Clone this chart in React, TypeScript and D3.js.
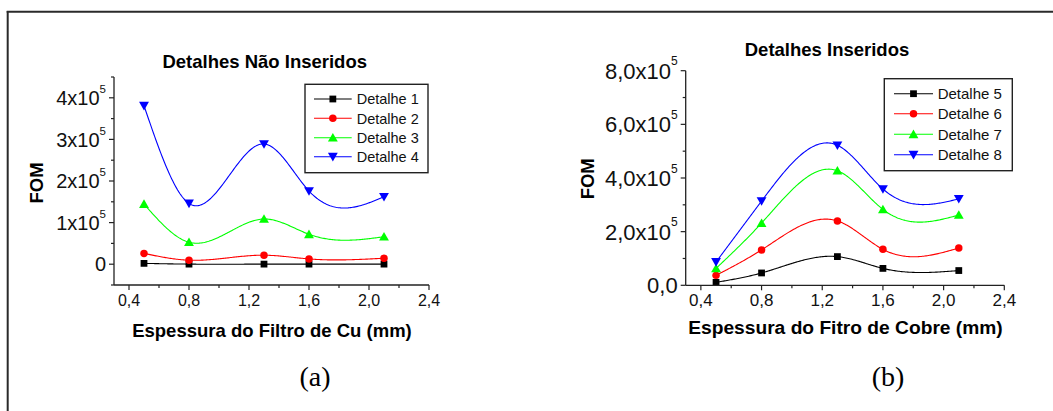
import React from "react";
import * as d3 from "d3";

// ---------- DATA ----------
const xValues = [0.5, 0.8, 1.3, 1.6, 2.1];
const xTickValues = [0.4, 0.8, 1.2, 1.6, 2.0, 2.4];
const xTickLabels = ["0,4", "0,8", "1,2", "1,6", "2,0", "2,4"];
const xMinorTickValues = [0.6, 1.0, 1.4, 1.8, 2.2];

const leftNames = ["Detalhe 1", "Detalhe 2", "Detalhe 3", "Detalhe 4"];
const detalhe1 = [2000, 200, 200, 200, 200];
const detalhe2 = [26000, 9600, 21600, 12700, 14400];
const detalhe3 = [144600, 52800, 108600, 71900, 66000];
const detalhe4 = [381000, 146000, 289000, 176000, 162000];
const leftYTicks = [0, 1e5, 2e5, 3e5, 4e5];
const leftYTickMantissa = ["0", "1x10", "2x10", "3x10", "4x10"];
const leftYTickExponent = ["", "5", "5", "5", "5"];
const leftYMinorTicks = [-0.5e5, 0.5e5, 1.5e5, 2.5e5, 3.5e5, 4.5e5];

const rightNames = ["Detalhe 5", "Detalhe 6", "Detalhe 7", "Detalhe 8"];
const detalhe5 = [11000, 46000, 107000, 63000, 55000];
const detalhe6 = [37000, 132000, 240000, 134000, 139000];
const detalhe7 = [63000, 232000, 427000, 283000, 262000];
const detalhe8 = [87000, 314000, 522000, 359000, 322000];
const rightYTicks = [0, 2e5, 4e5, 6e5, 8e5];
const rightYTickMantissa = ["0,0", "2,0x10", "4,0x10", "6,0x10", "8,0x10"];
const rightYTickExponent = ["", "5", "5", "5", "5"];
const rightYMinorTicks = [1e5, 3e5, 5e5, 7e5];

const seriesColors = ["#000000", "#ff0000", "#00ff00", "#0000ff"];
const seriesSymbols = ["square", "circle", "up", "down"];

// ---------- helpers ----------
function naturalSpline(xs: number[], ys: number[]) {
  const n = xs.length;
  const h: number[] = [];
  for (let i = 0; i < n - 1; i++) h.push(xs[i + 1] - xs[i]);
  const a: number[] = new Array(n).fill(0);
  const b: number[] = new Array(n).fill(0);
  const c: number[] = new Array(n).fill(0);
  const r: number[] = new Array(n).fill(0);
  b[0] = 1; b[n - 1] = 1;
  for (let i = 1; i < n - 1; i++) {
    a[i] = h[i - 1];
    b[i] = 2 * (h[i - 1] + h[i]);
    c[i] = h[i];
    r[i] = 6 * ((ys[i + 1] - ys[i]) / h[i] - (ys[i] - ys[i - 1]) / h[i - 1]);
  }
  // Thomas algorithm
  const cp = new Array(n).fill(0);
  const rp = new Array(n).fill(0);
  cp[0] = c[0] / b[0];
  rp[0] = r[0] / b[0];
  for (let i = 1; i < n; i++) {
    const m = b[i] - a[i] * cp[i - 1];
    cp[i] = c[i] / m;
    rp[i] = (r[i] - a[i] * rp[i - 1]) / m;
  }
  const M = new Array(n).fill(0);
  M[n - 1] = rp[n - 1];
  for (let i = n - 2; i >= 0; i--) M[i] = rp[i] - cp[i] * M[i + 1];
  return (x: number) => {
    let i = 0;
    while (i < n - 2 && x > xs[i + 1]) i++;
    const hi = h[i];
    const t1 = xs[i + 1] - x;
    const t0 = x - xs[i];
    return (
      (M[i] * t1 * t1 * t1) / (6 * hi) +
      (M[i + 1] * t0 * t0 * t0) / (6 * hi) +
      (ys[i] / hi - (M[i] * hi) / 6) * t1 +
      (ys[i + 1] / hi - (M[i + 1] * hi) / 6) * t0
    );
  };
}

function symbolPath(kind: string) {
  if (kind === "square") return d3.symbol(d3.symbolSquare, 46)();
  if (kind === "circle") return d3.symbol(d3.symbolCircle, 44)();
  return d3.symbol(d3.symbolTriangle, 42)();
}

function Marker({ kind, x, y, color }: any) {
  const rot = kind === "down" ? 180 : 0;
  const dy = kind === "up" ? 1 : kind === "down" ? -1 : 0;
  return (
    <path
      d={symbolPath(kind) as string}
      transform={`translate(${x},${y + dy}) rotate(${rot})`}
      fill={color}
      stroke="none"
    />
  );
}

const SANS = "'Liberation Sans', Arial, Helvetica, sans-serif";
const SERIF = "'Liberation Serif', 'Times New Roman', serif";

function Panel(props: any) {
  const {
    x0, x1, yTop, yBottom, yDomain, series, names,
    yTicks, yMantissa, yExponent, yMinor,
    title, titleX, titleY, xTitle, xTitleX, xTitleY, xTitleSize,
    yTitleX, yTitleY, yTickSize, supSize, supDy, xTickSize,
    legend, caption, captionX,
  } = props;
  const xs = d3.scaleLinear().domain([0.3, 2.4]).range([x0, x1]);
  const ys = d3.scaleLinear().domain(yDomain).range([yBottom, yTop]);
  const line = d3.line<[number, number]>().x((d) => xs(d[0])).y((d) => ys(d[1]));
  const axisColor = "#222";
  return (
    <g>
      <text x={titleX} y={titleY} textAnchor="middle" fontFamily={SANS} fontWeight="bold" fontSize={18.5}>{title}</text>
      {/* curves */}
      {series.map((vals: number[], si: number) => {
        const f = naturalSpline(xValues, vals);
        const pts: [number, number][] = d3.range(0, 201).map((k) => {
          const x = xValues[0] + ((xValues[xValues.length - 1] - xValues[0]) * k) / 200;
          return [x, f(x)];
        });
        return <path key={"c" + si} d={line(pts) as string} fill="none" stroke={seriesColors[si]} strokeWidth={1.1} />;
      })}
      {series.map((vals: number[], si: number) =>
        vals.map((v, i) => (
          <Marker key={"m" + si + "-" + i} kind={seriesSymbols[si]} x={xs(xValues[i])} y={ys(v)} color={seriesColors[si]} />
        ))
      )}
      {/* axes */}
      <line x1={x0} x2={x0} y1={yTop} y2={yBottom} stroke={axisColor} strokeWidth={1.3} />
      <line x1={x0} x2={x1} y1={yBottom} y2={yBottom} stroke={axisColor} strokeWidth={1.3} />
      {xTickValues.map((t, i) => (
        <g key={"xt" + i}>
          <line x1={xs(t)} x2={xs(t)} y1={yBottom} y2={yBottom + 5} stroke={axisColor} strokeWidth={1.2} />
          <text x={xs(t)} y={306} textAnchor="middle" fontFamily={SANS} fontSize={xTickSize} fill="#111">{xTickLabels[i]}</text>
        </g>
      ))}
      {xMinorTickValues.map((t, i) => (
        <line key={"xm" + i} x1={xs(t)} x2={xs(t)} y1={yBottom} y2={yBottom + 3} stroke={axisColor} strokeWidth={1.2} />
      ))}
      {yTicks.map((t: number, i: number) => (
        <g key={"yt" + i}>
          <line x1={x0 - 5} x2={x0} y1={ys(t)} y2={ys(t)} stroke={axisColor} strokeWidth={1.2} />
          <text x={x0 - 8} y={ys(t) + yTickSize * 0.36} textAnchor="end" fontFamily={SANS} fontSize={yTickSize} fill="#111">
            {yMantissa[i]}
            {yExponent[i] ? <tspan fontSize={supSize} dy={supDy}>{yExponent[i]}</tspan> : null}
          </text>
        </g>
      ))}
      {yMinor.map((t: number, i: number) => (
        <line key={"ym" + i} x1={x0 - 3} x2={x0} y1={ys(t)} y2={ys(t)} stroke={axisColor} strokeWidth={1.2} />
      ))}
      <text x={xTitleX} y={xTitleY} textAnchor="middle" fontFamily={SANS} fontWeight="bold" fontSize={xTitleSize}>{xTitle}</text>
      <text transform={`translate(${yTitleX},${yTitleY}) rotate(-90)`} textAnchor="middle" fontFamily={SANS} fontWeight="bold" fontSize={18.5}>FOM</text>
      {/* legend */}
      <rect x={legend.x} y={legend.y} width={legend.w} height={legend.h} fill="white" stroke="#222" strokeWidth={1.4} />
      {names.map((nm: string, i: number) => {
        const ry = legend.rows[i];
        return (
          <g key={"lg" + i}>
            <line x1={legend.lx0} x2={legend.lx1} y1={ry} y2={ry} stroke={seriesColors[i]} strokeWidth={1.1} />
            <Marker kind={seriesSymbols[i]} x={(legend.lx0 + legend.lx1) / 2} y={ry} color={seriesColors[i]} />
            <text x={legend.tx} y={ry + legend.fs * 0.36} fontFamily={SANS} fontSize={legend.fs} fill="#111">{nm}</text>
          </g>
        );
      })}
      <text x={captionX} y={386} textAnchor="middle" fontFamily={SERIF} fontSize={28}>{caption}</text>
    </g>
  );
}

export default function App() {
  return (
    <div style={{ position: "absolute", left: 0, top: 0, width: 1053, height: 411, background: "white" }}>
      <svg width={1053} height={411} style={{ display: "block" }}>
        <rect x={0} y={0} width={1053} height={411} fill="white" />
        <line x1={7.7} x2={7.7} y1={11} y2={411} stroke="#2a2a2a" strokeWidth={2} />
        <line x1={6.7} x2={1053} y1={11.8} y2={11.8} stroke="#2a2a2a" strokeWidth={2} />
        <Panel
          x0={114} x1={429} yTop={77} yBottom={285} yDomain={[-0.5e5, 4.5e5]}
          series={[detalhe1, detalhe2, detalhe3, detalhe4]} names={leftNames}
          yTicks={leftYTicks} yMantissa={leftYTickMantissa} yExponent={leftYTickExponent} yMinor={leftYMinorTicks}
          title="Detalhes Não Inseridos" titleX={264.7} titleY={68}
          xTitle="Espessura do Filtro de Cu (mm)" xTitleX={272} xTitleY={337} xTitleSize={18.5}
          yTitleX={42.7} yTitleY={183} yTickSize={20} supSize={11.5} supDy={-12} xTickSize={16}
          legend={{ x: 305, y: 84.3, w: 123, h: 88.4, rows: [99, 118.3, 137.7, 156.7], lx0: 314, lx1: 351.7, tx: 356.7, fs: 14.5 }}
          caption="(a)" captionX={315}
        />
        <Panel
          x0={685.7} x1={1004.3} yTop={70.7} yBottom={285.3} yDomain={[0, 8e5]}
          series={[detalhe5, detalhe6, detalhe7, detalhe8]} names={rightNames}
          yTicks={rightYTicks} yMantissa={rightYTickMantissa} yExponent={rightYTickExponent} yMinor={rightYMinorTicks}
          title="Detalhes Inseridos" titleX={827} titleY={56}
          xTitle="Espessura do Fitro de Cobre (mm)" xTitleX={845.5} xTitleY={334} xTitleSize={19.2}
          yTitleX={594} yTitleY={178.8} yTickSize={22} supSize={12} supDy={-13.3} xTickSize={17}
          legend={{ x: 884.3, y: 78.7, w: 128, h: 92, rows: [93.7, 113.7, 134.3, 154.7], lx0: 894, lx1: 933, tx: 937.7, fs: 15 }}
          caption="(b)" captionX={888}
        />
      </svg>
    </div>
  );
}
